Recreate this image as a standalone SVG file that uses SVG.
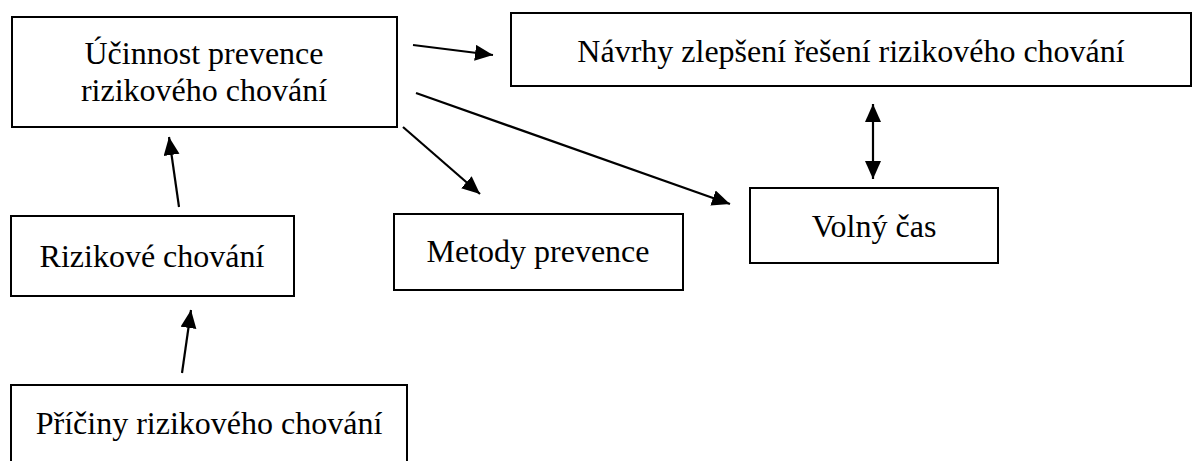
<svg xmlns="http://www.w3.org/2000/svg" width="1193" height="461" viewBox="0 0 1193 461">
  <style>
    .box { fill: #ffffff; stroke: #000000; stroke-width: 2; }
    .lbl { font-family: "Liberation Serif", "Times New Roman", serif; font-size: 32px; fill: #000000; text-anchor: middle; }
    .conn { stroke: #000000; stroke-width: 2.2; fill: none; }
  </style>
  <defs>
    <marker id="arrow" markerUnits="userSpaceOnUse" markerWidth="19" markerHeight="17" refX="18" refY="8" orient="auto-start-reverse" viewBox="0 0 19 17">
      <path d="M0,0 L18,8 L0,16 z" fill="#000000"/>
    </marker>
  </defs>
  <rect width="1193" height="461" fill="#ffffff"/>

  <g id="node-ucinnost">
    <rect class="box" x="12" y="17" width="385" height="110"/>
    <text class="lbl" x="204" y="64">Účinnost prevence</text>
    <text class="lbl" x="204" y="101">rizikového chování</text>
  </g>

  <g id="node-navrhy">
    <rect class="box" x="511" y="13" width="680" height="73"/>
    <text class="lbl" x="851" y="62">Návrhy zlepšení řešení rizikového chování</text>
  </g>

  <g id="node-volny">
    <rect class="box" x="750" y="188" width="248" height="75"/>
    <text class="lbl" x="874" y="237">Volný čas</text>
  </g>

  <g id="node-metody">
    <rect class="box" x="394" y="214" width="289" height="76"/>
    <text class="lbl" x="538" y="262">Metody prevence</text>
  </g>

  <g id="node-rizikove">
    <rect class="box" x="11" y="216" width="283" height="80"/>
    <text class="lbl" x="152" y="267">Rizikové chování</text>
  </g>

  <g id="node-priciny">
    <rect class="box" x="11" y="385" width="396" height="110"/>
    <text class="lbl" x="209" y="434">Příčiny rizikového chování</text>
  </g>

  <g id="connectors">
    <line class="conn" x1="413" y1="45" x2="493" y2="55" marker-end="url(#arrow)"/>
    <line class="conn" x1="416" y1="93" x2="730" y2="204" marker-end="url(#arrow)"/>
    <line class="conn" x1="403" y1="127" x2="480" y2="194" marker-end="url(#arrow)"/>
    <line class="conn" x1="179" y1="207" x2="169" y2="137" marker-end="url(#arrow)"/>
    <line class="conn" x1="182" y1="373" x2="191" y2="310" marker-end="url(#arrow)"/>
    <line class="conn" x1="873" y1="104" x2="873" y2="179" marker-start="url(#arrow)" marker-end="url(#arrow)"/>
  </g>
</svg>
